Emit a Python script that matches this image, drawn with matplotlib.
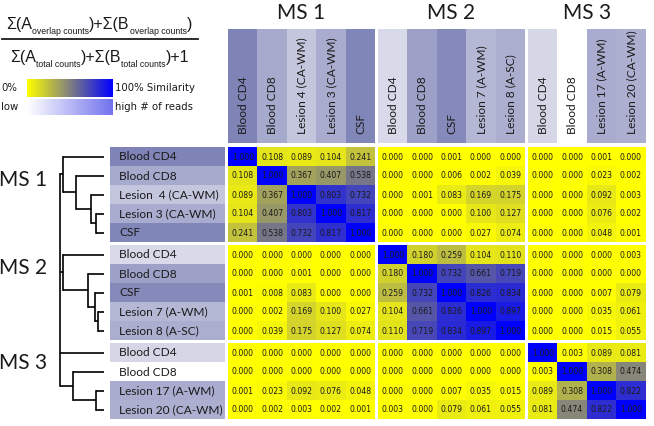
import numpy as np
import matplotlib
matplotlib.use('Agg')
import matplotlib.pyplot as plt
from matplotlib.colors import LinearSegmentedColormap
from matplotlib.patches import Rectangle

# ---------------- data ----------------
groups = ['MS 1', 'MS 2', 'MS 3']
group_sizes = [5, 5, 4]

row_labels = ['Blood CD4', 'Blood CD8', 'Lesion  4 (CA-WM)', 'Lesion 3 (CA-WM)', 'CSF',
              'Blood CD4', 'Blood CD8', 'CSF', 'Lesion 7 (A-WM)', 'Lesion 8 (A-SC)',
              'Blood CD4', 'Blood CD8', 'Lesion 17 (A-WM)', 'Lesion 20 (CA-WM)']
col_labels = ['Blood CD4', 'Blood CD8', 'Lesion 4 (CA-WM)', 'Lesion 3 (CA-WM)', 'CSF',
              'Blood CD4', 'Blood CD8', 'CSF', 'Lesion 7 (A-WM)', 'Lesion 8 (A-SC)',
              'Blood CD4', 'Blood CD8', 'Lesion 17 (A-WM)', 'Lesion 20 (CA-WM)']

# relative number of reads (label shading), 0 = low, 1 = high
read_level = [0.97, 0.67, 0.45, 0.65, 0.95,
              0.30, 0.74, 0.92, 0.56, 0.64,
              0.32, 0.00, 0.65, 0.63]

similarity = [
    [1.000, 0.108, 0.089, 0.104, 0.241, 0.000, 0.000, 0.001, 0.000, 0.000, 0.000, 0.000, 0.001, 0.000],
    [0.108, 1.000, 0.367, 0.407, 0.538, 0.000, 0.000, 0.006, 0.002, 0.039, 0.000, 0.000, 0.023, 0.002],
    [0.089, 0.367, 1.000, 0.803, 0.732, 0.000, 0.001, 0.083, 0.169, 0.175, 0.000, 0.000, 0.092, 0.003],
    [0.104, 0.407, 0.803, 1.000, 0.817, 0.000, 0.000, 0.000, 0.100, 0.127, 0.000, 0.000, 0.076, 0.002],
    [0.241, 0.538, 0.732, 0.817, 1.000, 0.000, 0.000, 0.000, 0.027, 0.074, 0.000, 0.000, 0.048, 0.001],
    [0.000, 0.000, 0.000, 0.000, 0.000, 1.000, 0.180, 0.259, 0.104, 0.110, 0.000, 0.000, 0.000, 0.003],
    [0.000, 0.000, 0.001, 0.000, 0.000, 0.180, 1.000, 0.732, 0.661, 0.719, 0.000, 0.000, 0.000, 0.000],
    [0.001, 0.008, 0.083, 0.000, 0.000, 0.259, 0.732, 1.000, 0.826, 0.834, 0.000, 0.000, 0.007, 0.079],
    [0.000, 0.002, 0.169, 0.100, 0.027, 0.104, 0.661, 0.826, 1.000, 0.897, 0.000, 0.000, 0.035, 0.061],
    [0.000, 0.039, 0.175, 0.127, 0.074, 0.110, 0.719, 0.834, 0.897, 1.000, 0.000, 0.000, 0.015, 0.055],
    [0.000, 0.000, 0.000, 0.000, 0.000, 0.000, 0.000, 0.000, 0.000, 0.000, 1.000, 0.003, 0.089, 0.081],
    [0.000, 0.000, 0.000, 0.000, 0.000, 0.000, 0.000, 0.000, 0.000, 0.000, 0.003, 1.000, 0.308, 0.474],
    [0.001, 0.023, 0.092, 0.076, 0.048, 0.000, 0.000, 0.007, 0.035, 0.015, 0.089, 0.308, 1.000, 0.822],
    [0.000, 0.002, 0.003, 0.002, 0.001, 0.003, 0.000, 0.079, 0.061, 0.055, 0.081, 0.474, 0.822, 1.000],
]

# dendrogram: (children, merge height)  node ids start at 14
dendro_nodes = [
    ([3, 4], 8), ([2, 14], 13), ([1, 15], 28), ([0, 16], 41),
    ([8, 9], 6), ([7, 18], 9), ([6, 19], 16), ([5, 20], 41),
    ([12, 13], 8), ([11, 22], 31.5),
    ([17, 21, 10, 23], 44),
]

# formula pieces (text, is_subscript)
numerator = [('Σ(A', False), ('overlap counts', True), (')+Σ(B', False),
             ('overlap counts', True), (')', False)]
denominator = [('Σ(A', False), ('total counts', True), (')+Σ(B', False),
               ('total counts', True), (')+1', False)]

# ---------------- styling / layout ----------------
W, H = 654, 426
fig = plt.figure(figsize=(W / 100, H / 100), dpi=100)
ax = fig.add_axes([0, 0, 1, 1])
ax.set_xlim(0, W)
ax.set_ylim(H, 0)
ax.axis('off')
renderer = fig.canvas.get_renderer()


def fit_size(s, target_w, **kw):
    t = ax.text(0, 0, s, fontsize=10, **kw)
    w = t.get_window_extent(renderer).width
    t.remove()
    return 10 * target_w / w


def text_width(s, **kw):
    t = ax.text(0, 0, s, **kw)
    w = t.get_window_extent(renderer).width
    t.remove()
    return w


sim_cmap = LinearSegmentedColormap.from_list('sim', ['#ffff00', '#808080', '#0000ff'])
read_cmap = LinearSegmentedColormap.from_list('reads', ['#ffffff', '#7b80b4'])
legend_read_cmap = LinearSegmentedColormap.from_list('lreads', ['#ffffff', '#7272ee'])

x0, cw, gx = 228, 29.4, 3
y0, ch, gy = 147, 19.0, 3
grp = np.repeat(np.arange(len(groups)), group_sizes)
n = len(row_labels)
col_x = np.array([x0 + j * cw + grp[j] * gx for j in range(n)])
row_y = np.array([y0 + i * ch + grp[i] * gy for i in range(n)])

label_font = ['Lato', 'Open Sans', 'DejaVu Sans']
num_font = 'DejaVu Sans'
f_font = ['Liberation Sans', 'DejaVu Sans']
txt_col = '#1a1a1a'

fs_num = fit_size('0.000', 22, family=num_font)
fs_lab = fit_size('Lesion 20 (CA-WM)', 104, family=label_font)
fs_title = fit_size('MS 1', 48, family=label_font)
fs_leg = fit_size('100% Similarity', 80, family=num_font)

sim = np.array(similarity)
for i in range(n):
    for j in range(n):
        v = sim[i, j]
        ax.add_patch(Rectangle((col_x[j], row_y[i]), cw, ch, facecolor=sim_cmap(v),
                               edgecolor='none'))
        ax.text(col_x[j] + cw / 2, row_y[i] + ch / 2 + 0.5, f'{v:.3f}', ha='center', va='center',
                fontsize=fs_num, family=num_font, color='#1a1a1a')

# row label boxes
rx0, rx1 = 110, 225
for i in range(n):
    ax.add_patch(Rectangle((rx0, row_y[i]), rx1 - rx0, ch, facecolor=read_cmap(read_level[i]),
                           edgecolor='none'))
    ax.text(rx0 + 9, row_y[i] + ch / 2 + 0.5, row_labels[i], ha='left', va='center',
            fontsize=fs_lab, family=label_font, color=txt_col)

# column label boxes
cy0, cy1 = 29, 143
for j in range(n):
    ax.add_patch(Rectangle((col_x[j], cy0), cw, cy1 - cy0, facecolor=read_cmap(read_level[j]),
                           edgecolor='none'))
    ax.text(col_x[j] + cw / 2 + 0.5, 134, col_labels[j], rotation=90, ha='center', va='bottom',
            fontsize=fs_lab, family=label_font, color=txt_col)

# group titles on top
starts = np.cumsum([0] + group_sizes[:-1])
for g, name in enumerate(groups):
    a = starts[g]
    b = a + group_sizes[g] - 1
    cx = (col_x[a] + col_x[b] + cw) / 2
    ax.text(cx, 13, name, ha='center', va='center', fontsize=fs_title, family=label_font,
            color=txt_col)

# dendrogram
leaf_x = 104
scale = 1.0
ypos = {i: row_y[i] + ch / 2 for i in range(n)}
xpos = {i: leaf_x for i in range(n)}
for k, (children, h) in enumerate(dendro_nodes):
    nid = n + k
    xn = leaf_x - h * scale
    ys = [ypos[c] for c in children]
    for c in children:
        ax.plot([xn, xpos[c]], [ypos[c], ypos[c]], color='black', lw=1.2,
                solid_capstyle='butt')
    ax.plot([xn, xn], [min(ys), max(ys)], color='black', lw=1.2, solid_capstyle='projecting')
    xpos[nid] = xn
    ypos[nid] = (min(ys) + max(ys)) / 2

# group labels on the left
left_label_y = [ypos[17] + 6, ypos[21] - 4, (ypos[10] + ypos[23]) / 2 - 6]
for g, name in enumerate(groups):
    ax.text(23, left_label_y[g], name, ha='center', va='center', fontsize=fs_title,
            family=label_font, color=txt_col)

# formula
main_fs, sub_fs = 11.5, 6.3


def draw_formula(pieces, cx, base_y, sub_drop=5):
    widths = [text_width(s, fontsize=(sub_fs if sub else main_fs), family=f_font)
              for s, sub in pieces]
    x = cx - sum(widths) / 2
    for (s, sub), w in zip(pieces, widths):
        ax.text(x, base_y + (sub_drop if sub else 0), s, ha='left', va='baseline',
                fontsize=(sub_fs if sub else main_fs), family=f_font, color=txt_col)
        x += w


draw_formula(numerator, 99, 29)
ax.plot([2, 198], [39, 39], color=txt_col, lw=1.3)
draw_formula(denominator, 100, 62)

# legend bars
grad = np.linspace(0, 1, 256).reshape(1, -1)
ax.imshow(grad, cmap=sim_cmap, extent=(27, 113, 97, 79), aspect='auto', zorder=2)
ax.imshow(grad, cmap=legend_read_cmap, extent=(27, 113, 115, 99), aspect='auto', zorder=2)
ax.text(1, 88, '0%', ha='left', va='center', fontsize=fs_leg, family=num_font, color=txt_col)
ax.text(115, 88, '100% Similarity', ha='left', va='center', fontsize=fs_leg, family=num_font,
        color=txt_col)
ax.text(1, 107, 'low', ha='left', va='center', fontsize=fs_leg, family=num_font, color=txt_col)
ax.text(115, 107, 'high # of reads', ha='left', va='center', fontsize=fs_leg, family=num_font,
        color=txt_col)

ax.set_xlim(0, W)
ax.set_ylim(H, 0)
fig.savefig('out.png', dpi=100)
